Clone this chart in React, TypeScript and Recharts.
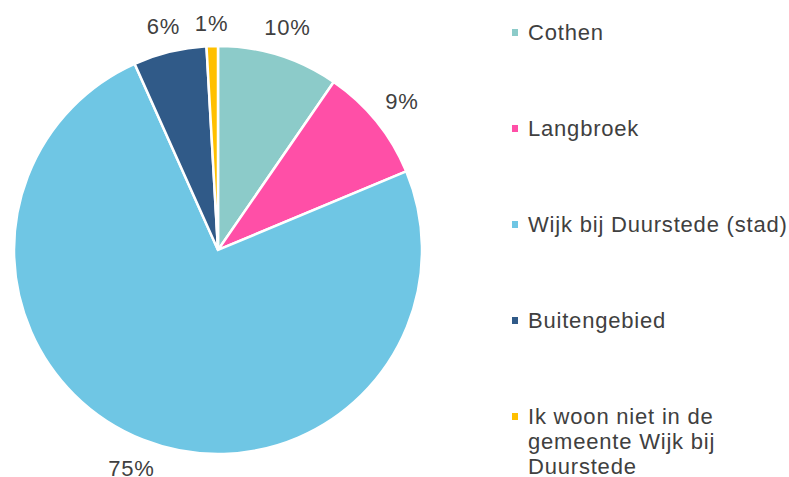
import React from 'react';
import { PieChart, Pie, Cell, Legend } from 'recharts';

const categories = [
  'Cothen',
  'Langbroek',
  'Wijk bij Duurstede (stad)',
  'Buitengebied',
  'Ik woon niet in de gemeente Wijk bij Duurstede',
];
const shares = [9.6, 9.1, 74.6, 5.8, 0.9];
const colors = ['#8ccbc9', '#ff4fa7', '#6fc6e4', '#305a88', '#ffc000'];

const data = categories.map((name, i) => ({ name, value: shares[i] }));

const FONT = '"Liberation Sans", Arial, sans-serif';
const TEXT = '#404040';
const FS = 22;
const LS = 0.8;

const charWidth = (c: string) => (c === '%' ? 0.889 : 0.556);

const renderLabel = (props: any) => {
  const { cx, cy, midAngle, outerRadius, value } = props;
  const text = `${Math.round(value)}%`;
  const RAD = Math.PI / 180;
  const cosA = Math.cos(-midAngle * RAD);
  const sinA = Math.sin(-midAngle * RAD);
  const w = text.split('').reduce((s, c) => s + charWidth(c) * FS + LS, 0);
  const halfW = w / 2;
  const halfH = 8;
  const proj = Math.abs(cosA) * halfW + Math.abs(sinA) * halfH;
  const dist = outerRadius + 15 + proj;
  const x = cx + dist * cosA;
  const y = cy + dist * sinA;
  return (
    <text
      x={x}
      y={y + 8}
      textAnchor="middle"
      fill={TEXT}
      fontSize={FS}
      fontFamily={FONT}
      letterSpacing={LS}
    >
      {text}
    </text>
  );
};

const renderLegend = () => (
  <div style={{ fontFamily: FONT, fontSize: FS, letterSpacing: LS, color: TEXT }}>
    {categories.map((name, i) => (
      <div
        key={name}
        style={{
          position: 'relative',
          lineHeight: '25px',
          paddingLeft: 18,
          marginBottom: i === categories.length - 1 ? 0 : 71,
          whiteSpace: i === categories.length - 1 ? 'normal' : 'nowrap',
        }}
      >
        <span
          style={{
            position: 'absolute',
            left: 2,
            top: 9,
            width: 6,
            height: 7,
            background: colors[i],
          }}
        />
        {name}
      </div>
    ))}
  </div>
);

export default function App() {
  return (
    <div style={{ position: 'absolute', left: 0, top: 0, width: 789, height: 477, background: '#fff' }}>
      <PieChart width={789} height={477} margin={{ top: 0, right: 0, bottom: 0, left: 0 }}>
        <Pie
          data={data}
          dataKey="value"
          nameKey="name"
          cx={218}
          cy={250}
          outerRadius={204}
          startAngle={90}
          endAngle={-270}
          stroke="#ffffff"
          strokeWidth={2.5}
          label={renderLabel}
          labelLine={false}
          isAnimationActive={false}
        >
          {data.map((d, i) => (
            <Cell key={d.name} fill={colors[i]} />
          ))}
        </Pie>
        <Legend
          layout="vertical"
          align="right"
          verticalAlign="top"
          content={renderLegend}
          wrapperStyle={{ position: 'absolute', left: 510, top: 20, width: 279 }}
        />
      </PieChart>
    </div>
  );
}
